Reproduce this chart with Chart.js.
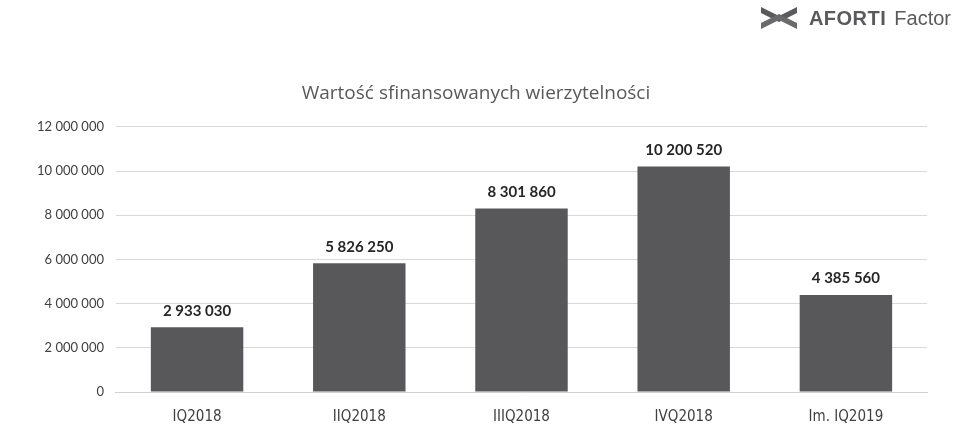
<!DOCTYPE html>
<html>
<head>
<meta charset="utf-8">
<script src="https://cdn.jsdelivr.net/npm/chart.js@4.4.0/dist/chart.umd.min.js"></script>
<style>
  body { margin: 0; background: #fff; }
  #wrap { position: relative; width: 961px; height: 441px; }
  #logo { position: absolute; right: 10px; top: 4px; display: flex; align-items: center; color: #5a5a5c; font-family: 'Liberation Sans', Arial, sans-serif; }
  #logo .brand { font-weight: bold; font-size: 20px; margin-left: 10px; letter-spacing: 0.5px; }
  #logo .sub { font-size: 20px; margin-left: 8px; }
</style>
</head>
<body>
<div id="wrap">
  <canvas id="chart" width="961" height="441"></canvas>
  <div id="logo">
    <svg width="40" height="28" viewBox="0 0 40 28">
      <path d="M2 3 L20 12 L38 3 L38 9 L20 18 L2 9 Z" fill="#5a5a5c"/>
      <path d="M2 19 L20 10 L38 19 L38 25 L20 16 L2 25 Z" fill="#6a6a6c"/>
    </svg>
    <span class="brand">AFORTI</span><span class="sub">Factor</span>
  </div>
</div>
<script>
// Chart data
const categories = ['IQ2018', 'IIQ2018', 'IIIQ2018', 'IVQ2018', 'Im. IQ2019'];
const values = [2933030, 5826250, 8301860, 10200520, 4385560];
const yTicks = [0, 2000000, 4000000, 6000000, 8000000, 10000000, 12000000];

function fmt(n) {
  return String(n).replace(/\B(?=(\d{3})+(?!\d))/g, ' ');
}

// Draw the value above each bar
const barLabels = {
  id: 'barLabels',
  afterDatasetsDraw(chart) {
    const ctx = chart.ctx;
    const meta = chart.getDatasetMeta(0);
    ctx.save();
    ctx.font = 'bold 15px Lato, sans-serif';
    ctx.fillStyle = '#262626';
    ctx.textAlign = 'center';
    ctx.textBaseline = 'bottom';
    meta.data.forEach((bar, i) => {
      ctx.fillText(fmt(values[i]), bar.x, bar.y - 9);
    });
    ctx.restore();
  }
};

const ctx = document.getElementById('chart').getContext('2d');
const chart = new Chart(ctx, {
  type: 'bar',
  data: {
    labels: categories,
    datasets: [{
      data: values,
      backgroundColor: '#58585a',
      barPercentage: 0.57,
      categoryPercentage: 1
    }]
  },
  options: {
    responsive: false,
    animation: false,
    layout: { padding: { top: 82, right: 34, left: 25, bottom: 7 } },
    plugins: {
      legend: { display: false },
      tooltip: { enabled: false },
      title: {
        display: true,
        text: 'Wartość sfinansowanych wierzytelności',
        color: '#595959',
        font: { family: '"Open Sans", sans-serif', size: 19, weight: 'normal' },
        padding: { top: 0, bottom: 22 }
      }
    },
    scales: {
      x: {
        grid: { display: false },
        border: { color: '#d0d0d0' },
        ticks: {
          color: '#404040',
          font: { family: '"Liberation Sans Narrow", "DejaVu Sans Condensed", sans-serif', size: 15 },
          padding: 8
        }
      },
      y: {
        min: 0,
        max: 12000000,
        afterBuildTicks(axis) { axis.ticks = yTicks.map(v => ({ value: v })); },
        grid: { color: '#d9d9d9', drawTicks: false },
        border: { display: false },
        ticks: {
          color: '#404040',
          font: { family: 'Lato, sans-serif', size: 13 },
          padding: 12,
          callback: v => fmt(v)
        }
      }
    }
  },
  plugins: [barLabels]
});
</script>
</body>
</html>
